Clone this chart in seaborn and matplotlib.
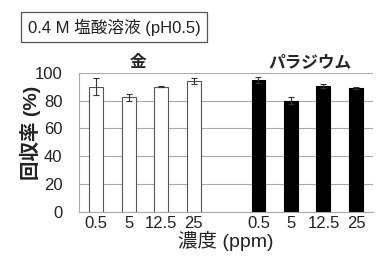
import numpy as np
import pandas as pd
import seaborn as sns
import matplotlib
matplotlib.use('Agg')
import matplotlib.pyplot as plt

# data
conc_labels = ['0.5', '5', '12.5', '25']
gold_recovery = [90, 82.3, 90, 94]
gold_err = [6, 2.8, 0.4, 2]
pd_recovery = [94.8, 80, 90.5, 89]
pd_err = [2, 2.4, 1.6, 0.7]
metals = ['金', 'パラジウム']

sns.set_style('white')
fams = ['Liberation Sans', 'Noto Sans CJK JP', 'DejaVu Sans']
plt.rcParams['font.family'] = fams

positions = [0, 1, 2, 3, 5, 6, 7, 8]
df = pd.DataFrame({
    'pos': positions,
    'recovery': gold_recovery + pd_recovery,
    'err': gold_err + pd_err,
    'metal': [metals[0]] * 4 + [metals[1]] * 4,
    'label': conc_labels * 2,
})

fig = plt.figure(figsize=(3.9, 2.61), dpi=100)
ax = fig.add_axes([0.203, 0.189, 0.753, 0.532])

sns.barplot(data=df, x='pos', y='recovery', hue='metal', native_scale=True,
            palette={metals[0]: 'white', metals[1]: 'black'}, dodge=False,
            width=0.43, errorbar=None, legend=False, ax=ax)
for p in ax.patches:
    fc = p.get_facecolor()
    p.set_edgecolor('#555555' if fc[0] > 0.5 else 'black')
    p.set_linewidth(0.8)
ax.errorbar(df['pos'], df['recovery'], yerr=df['err'], fmt='none',
            ecolor='#333333', elinewidth=0.8, capsize=2.5, capthick=0.8)

ax.set_xlim(-0.52, 8.52)
ax.set_ylim(0, 100)
ax.set_yticks([0, 20, 40, 60, 80, 100])
ax.set_xticks(positions)
ax.set_xticklabels(df['label'])
ax.tick_params(axis='both', labelsize=12, length=0, colors='#222222')
ax.tick_params(axis='x', pad=3)
ax.tick_params(axis='y', pad=12)
ax.yaxis.grid(True, color='#aaaaaa', linewidth=0.8)
ax.set_axisbelow(True)
for s in ['top', 'right']:
    ax.spines[s].set_visible(False)
for s in ['left', 'bottom']:
    ax.spines[s].set_color('#aaaaaa')
    ax.spines[s].set_linewidth(0.8)

ax.set_xlabel('濃度 (ppm)', fontsize=14, labelpad=0, color='#222222')
ax.set_ylabel('')
fig.text(0.079, 0.492, '回収率 (%)', rotation=90, ha='center', va='center',
         fontsize=14, fontweight='bold', color='#222222')

fig.text(0.354, 0.759, metals[0], ha='center', va='center', fontsize=12, fontweight='bold')
fig.text(0.795, 0.759, metals[1], ha='center', va='center', fontsize=12, fontweight='bold')

fig.text(0.072, 0.897, '0.4 M 塩酸溶液 (pH0.5)', ha='left', va='center', fontsize=12,
         color='#222222',
         bbox=dict(boxstyle='square,pad=0.4', facecolor='white', edgecolor='#555555', linewidth=0.9))

fig.savefig('out.png', dpi=100)
